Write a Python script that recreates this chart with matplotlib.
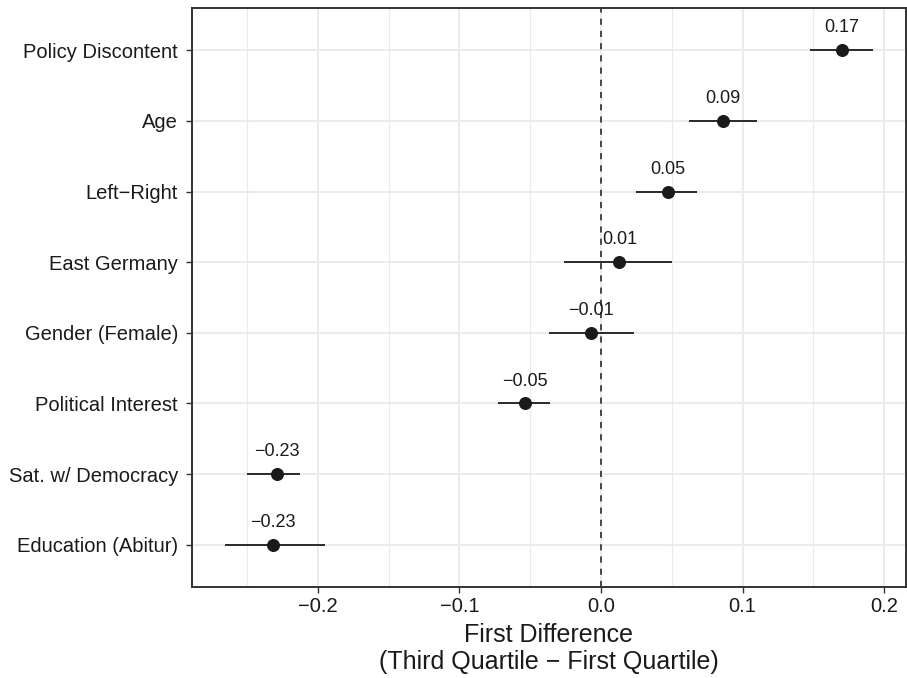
import numpy as np
import matplotlib.pyplot as plt
from matplotlib.ticker import MultipleLocator

plt.rcParams['font.family'] = ['Liberation Sans', 'DejaVu Sans']

variables = ['Policy Discontent', 'Age', 'Left\u2212Right', 'East Germany',
             'Gender (Female)', 'Political Interest', 'Sat. w/ Democracy',
             'Education (Abitur)']
estimate = [0.170, 0.086, 0.047, 0.013, -0.007, -0.054, -0.229, -0.232]
lower = [0.148, 0.062, 0.025, -0.026, -0.037, -0.073, -0.250, -0.266]
upper = [0.192, 0.110, 0.068, 0.050, 0.023, -0.036, -0.213, -0.195]
labels = ['0.17', '0.09', '0.05', '0.01', '\u22120.01', '\u22120.05', '\u22120.23', '\u22120.23']

ypos = np.arange(len(variables))[::-1] + 1

fig = plt.figure(figsize=(9.07, 6.78), dpi=100)
ax = fig.add_axes([192/907, 1 - 587/678, (906-192)/907, (587-8)/678])

ax.axvline(0, color='#1a1a1a', ls=(0, (4, 4)), lw=1.1, zorder=2)
ax.hlines(ypos, lower, upper, color='#1a1a1a', lw=1.3, zorder=3)
ax.scatter(estimate, ypos, s=70, color='#1a1a1a', zorder=4)
for x, y, t in zip(estimate, ypos, labels):
    ax.annotate(t, (x, y), xytext=(0, 10), textcoords='offset points',
                ha='center', va='bottom', fontsize=13, color='#1a1a1a')

ax.set_xlim(-0.289, 0.2155)
ax.set_ylim(0.4, 8.6)
ax.xaxis.set_minor_locator(MultipleLocator(0.05))
ticks = [-0.2, -0.1, 0.0, 0.1, 0.2]
ax.set_xticks(ticks)
ax.set_xticklabels([f'{t:.1f}'.replace('-', '\u2212') for t in ticks])
ax.set_yticks(ypos)
ax.set_yticklabels(variables)

ax.grid(which='major', color='#EBEBEB', lw=1.4, zorder=0)
ax.grid(which='minor', axis='x', color='#EBEBEB', lw=0.8, zorder=0)
ax.set_axisbelow(True)
ax.tick_params(which='major', length=4, width=1, color='#333333',
               labelsize=14.5, labelcolor='#1a1a1a', pad=3)
ax.tick_params(axis='y', pad=6)
ax.tick_params(which='minor', length=0)
for s in ax.spines.values():
    s.set_color('#333333')
    s.set_linewidth(1.4)

ax.set_xlabel('First Difference\n(Third Quartile \u2212 First Quartile)',
              fontsize=18, color='#1a1a1a', labelpad=5, linespacing=1.15)

fig.savefig('out.png', dpi=100)
